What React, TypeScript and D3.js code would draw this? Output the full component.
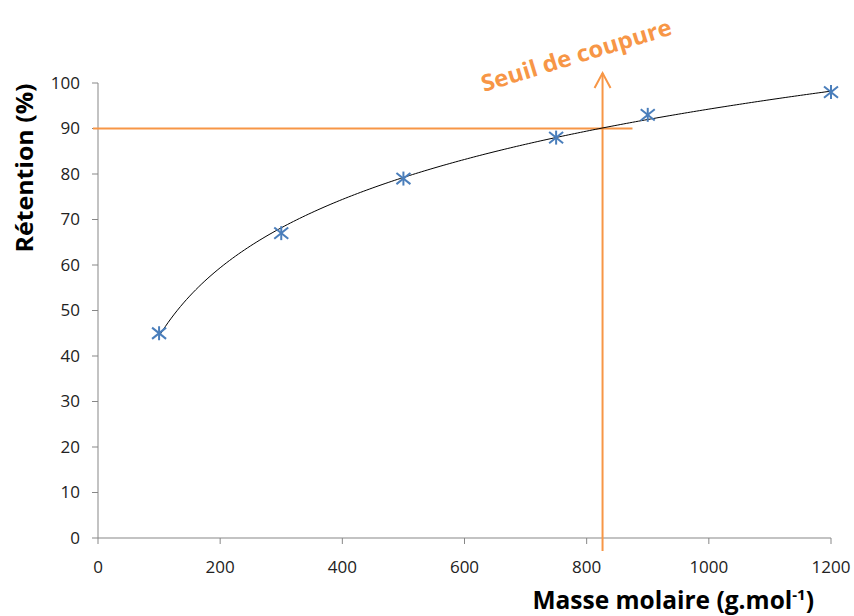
import React from "react";
import * as d3 from "d3";

const masses = [100, 300, 500, 750, 900, 1200];
const retention = [45, 67, 79, 88, 93, 98];
const xTicks = [0, 200, 400, 600, 800, 1000, 1200];
const yTicks = [0, 10, 20, 30, 40, 50, 60, 70, 80, 90, 100];
const cutoffRetention = 90;
const cutoffMass = 826;
const hLineEnd = 875;

const W = 854, H = 616;
const left = 98, right = 831, top = 83, bottom = 538;

export default function App() {
  const x = d3.scaleLinear().domain([0, 1200]).range([left, right]);
  const y = d3.scaleLinear().domain([0, 100]).range([bottom, top]);

  // logarithmic trend line (least squares on ln x)
  const lx = masses.map((m) => Math.log(m));
  const mx = d3.mean(lx)!;
  const my = d3.mean(retention)!;
  let sxy = 0, sxx = 0;
  lx.forEach((v, i) => {
    sxy += (v - mx) * (retention[i] - my);
    sxx += (v - mx) * (v - mx);
  });
  const a = sxy / sxx;
  const b = my - a * mx;
  const curvePts = d3.range(100, 1201, 5).map((m) => [m, a * Math.log(m) + b] as [number, number]);
  const line = d3.line<[number, number]>().x((d) => x(d[0])).y((d) => y(d[1])).curve(d3.curveMonotoneX);

  const orange = "#F79646";
  const blue = "#4A7EBB";
  const axisCol = "#878787";
  const font = "'Open Sans', 'Liberation Sans', sans-serif";
  const r = 7;

  const ax = x(cutoffMass);
  const arrowTop = 73;

  return (
    <svg width={W} height={H} style={{ position: "absolute", left: 0, top: 0 }}>
      <rect width={W} height={H} fill="#fff" />
      {/* axes */}
      <line x1={left} x2={left} y1={top} y2={bottom} stroke={axisCol} strokeWidth={1} />
      <line x1={left} x2={right} y1={bottom} y2={bottom} stroke={axisCol} strokeWidth={1} />
      {yTicks.map((t) => (
        <g key={"y" + t}>
          <line x1={left - 6} x2={left} y1={y(t)} y2={y(t)} stroke={axisCol} />
          <text x={80} y={y(t)} dy="0.35em" textAnchor="end" fontSize={17} fontFamily={font} fill="#222">{t}</text>
        </g>
      ))}
      {xTicks.map((t) => (
        <g key={"x" + t}>
          <line x1={x(t)} x2={x(t)} y1={bottom} y2={bottom + 6} stroke={axisCol} />
          <text x={x(t)} y={567} dy="0.35em" textAnchor="middle" fontSize={17} fontFamily={font} fill="#222">{t}</text>
        </g>
      ))}
      {/* orange reference lines */}
      <line x1={left - 5} x2={x(hLineEnd)} y1={y(cutoffRetention)} y2={y(cutoffRetention)} stroke={orange} strokeWidth={2} />
      <line x1={ax} x2={ax} y1={551} y2={arrowTop} stroke={orange} strokeWidth={2} />
      <polyline points={`${ax - 8},${arrowTop + 15} ${ax},${arrowTop} ${ax + 8},${arrowTop + 15}`} fill="none" stroke={orange} strokeWidth={2} />
      {/* trend curve */}
      <path d={line(curvePts)!} fill="none" stroke="#000" strokeWidth={1} />
      {/* markers */}
      {masses.map((m, i) => {
        const cx = x(m), cy = y(retention[i]);
        return (
          <g key={"p" + i} stroke={blue} strokeWidth={2}>
            <line x1={cx - r} y1={cy - r * 0.8} x2={cx + r} y2={cy + r * 0.8} />
            <line x1={cx - r} y1={cy + r * 0.8} x2={cx + r} y2={cy - r * 0.8} />
            <line x1={cx} y1={cy - r} x2={cx} y2={cy + r} />
          </g>
        );
      })}
      {/* annotation */}
      <text transform="translate(484,92) rotate(-17)" fontSize={23} fontWeight="bold" fontFamily={font} fill={orange} textLength={198} lengthAdjust="spacingAndGlyphs">Seuil de coupure</text>
      {/* axis titles */}
      <text transform="translate(33,168) rotate(-90)" textAnchor="middle" fontSize={24} fontWeight="bold" fontFamily={font} fill="#000" textLength={169} lengthAdjust="spacingAndGlyphs">Rétention (%)</text>
      <text x={814} y={609} textAnchor="end" fontSize={24.5} fontWeight="bold" fontFamily={font} fill="#000">
        Masse molaire (g.mol<tspan dy={-9} fontSize={15}>-1</tspan><tspan dy={9}>)</tspan>
      </text>
    </svg>
  );
}
